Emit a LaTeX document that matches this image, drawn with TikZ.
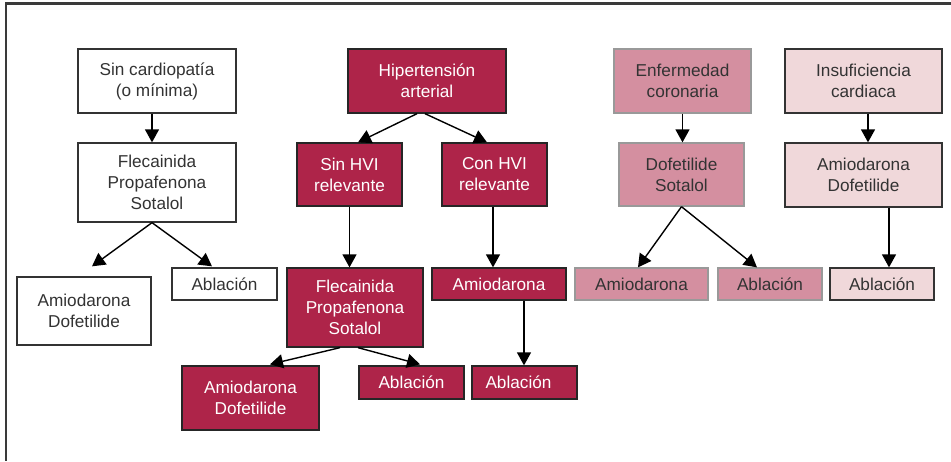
\documentclass[tikz,border=0pt]{standalone}
\usepackage{fontspec}
\setmainfont{Liberation Sans}
\usetikzlibrary{arrows.meta}

\definecolor{crimson}{HTML}{AE2449}
\definecolor{rose}{HTML}{D48FA0}
\definecolor{blush}{HTML}{F0D8DA}
\definecolor{inkgray}{HTML}{333333}
\definecolor{framegray}{HTML}{3A3A3A}

\tikzset{
  box/.style={draw, rectangle, inner sep=0pt, align=center, line width=1.3pt,
    font=\fontsize{17.2}{21}\selectfont},
  plainbox/.style={box, draw=inkgray, fill=white, text=inkgray},
  redbox/.style={box, draw=black!85, fill=crimson, text=white},
  rosebox/.style={box, draw=black!40, fill=rose, text=inkgray},
  blushbox/.style={box, draw=inkgray, fill=blush, text=inkgray},
  arr/.style={draw=black, line width=1.4pt, -{Triangle[length=13pt,width=14pt]}},
  frameline/.style={draw=framegray, line width=2.6pt}
}

\begin{document}
\begin{tikzpicture}[x=1pt, y=-1pt]
\useasboundingbox (0,0) rectangle (951,461);

% open frame: top and left edges
\draw[frameline] (951,3.5) -- (6,3.5) -- (6,461);

% structurally normal heart
\node[plainbox, minimum width=158pt, minimum height=64pt] (n1) at (157,81) {Sin cardiopatía\\(o mínima)};
\node[plainbox, minimum width=158pt, minimum height=79pt] (n2) at (157,182.5) {Flecainida\\Propafenona\\Sotalol};
\node[plainbox, minimum width=134pt, minimum height=68pt] (n3) at (84,311) {Amiodarona\\Dofetilide};
\node[plainbox, minimum width=105pt, minimum height=32pt] (n4) at (224.5,284) {Ablación};

% hypertension
\node[redbox, minimum width=158pt, minimum height=64pt] (h1) at (427,81) {Hipertensión\\arterial};
\node[redbox, minimum width=105pt, minimum height=63pt] (h2) at (349.5,174.5) {Sin HVI\\relevante};
\node[redbox, minimum width=105pt, minimum height=63pt] (h3) at (494.5,174.5) {Con HVI\\relevante};
\node[redbox, minimum width=136pt, minimum height=79pt] (h4) at (355,307.5) {Flecainida\\Propafenona\\Sotalol};
\node[redbox, minimum width=134pt, minimum height=32pt] (h5) at (499,284) {Amiodarona};
\node[redbox, minimum width=137pt, minimum height=64pt] (h6) at (250.5,398) {Amiodarona\\Dofetilide};
\node[redbox, minimum width=105pt, minimum height=33pt] (h7) at (411.5,382.5) {Ablación};
\node[redbox, minimum width=105pt, minimum height=33pt, text width=105pt, align=center] (h8) at (524.5,382.5) {Ablación\hspace*{12pt}};

% coronary disease
\node[rosebox, minimum width=137pt, minimum height=64pt] (c1) at (682.5,81) {Enfermedad\\coronaria};
\node[rosebox, minimum width=125pt, minimum height=63pt] (c2) at (681.5,174.5) {Dofetilide\\Sotalol};
\node[rosebox, minimum width=133pt, minimum height=32pt] (c3) at (641.5,284) {Amiodarona};
\node[rosebox, minimum width=104pt, minimum height=32pt] (c4) at (770,284) {Ablación};

% heart failure
\node[blushbox, minimum width=157pt, minimum height=64pt] (i1) at (863.5,81) {Insuficiencia\\cardiaca};
\node[blushbox, minimum width=157pt, minimum height=64pt] (i2) at (863.5,175) {Amiodarona\\Dofetilide};
\node[blushbox, minimum width=104pt, minimum height=32pt] (i3) at (882,284) {Ablación};

% connectors
\draw[arr] ([xshift=-5pt]n1.south) -- ([xshift=-5pt]n2.north);
\draw[arr] ([xshift=-5pt]n2.south) -- ([xshift=8pt, yshift=10pt]n3.north);
\draw[arr] ([xshift=-5pt]n2.south) -- ([xshift=-12.5pt, yshift=1pt]n4.north);

\draw[arr] ([xshift=-10pt]h1.south) -- ([xshift=8.5pt]h2.north);
\draw[arr] ([xshift=-2pt]h1.south) -- ([xshift=-7.5pt]h3.north);
\draw[arr] (h2.south) -- (h2.south |- h4.north);
\draw[arr] ([xshift=-1.5pt]h3.south) -- ([xshift=-1.5pt]h3.south |- h5.north);
\draw[arr] ([xshift=-15pt]h4.south) -- ([xshift=19.5pt, yshift=1pt]h6.north);
\draw[arr] ([xshift=3pt]h4.south) -- ([xshift=8.5pt, yshift=1pt]h7.north);
\draw[arr] ([xshift=25pt]h5.south) -- ([xshift=25pt]h5.south |- h8.north);

\draw[arr] (c1.south) -- (c1.south |- c2.north);
\draw[arr] (c2.south) -- ([xshift=-3.5pt]c3.north);
\draw[arr] (c2.south) -- ([xshift=-13pt]c4.north);

\draw[arr] ([xshift=4.5pt]i1.south) -- ([xshift=4.5pt]i1.south |- i2.north);
\draw[arr] ([xshift=7pt]i3.north |- i2.south) -- ([xshift=7pt]i3.north);
\end{tikzpicture}
\end{document}
